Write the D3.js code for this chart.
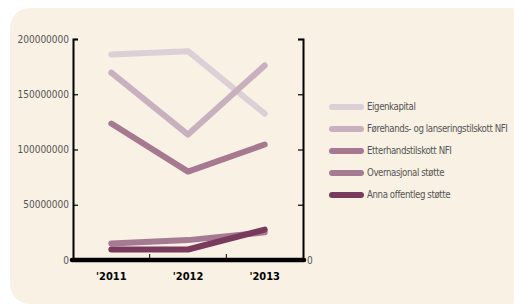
<!DOCTYPE html>
<html>
<head>
  <style>
  body {
    margin: 0;
    background: #fff;
  }
  svg text {
    font-family: "Liberation Sans Narrow", "DejaVu Sans Condensed", sans-serif;
  }
  .tick text {
    fill: #555;
    font-size: 10px;
  }
  .legend text {
    fill: #555;
    font-size: 9.6px;
    letter-spacing: -0.4px;
  }
  </style>
</head>
<body>
  <div id="chart"></div>
  <script src="https://d3js.org/d3.v7.min.js"></script>
  <script>
  var years = ["'2011", "'2012", "'2013"];
  var seriesNames = ["Eigenkapital", "Førehands- og lanseringstilskott NFI", "Etterhandstilskott NFI", "Overnasjonal støtte", "Anna offentleg støtte"];
  var eigenkapital = [186000000, 189000000, 132500000];
  var forehands = [169500000, 113500000, 176000000];
  var etterhand = [123500000, 80000000, 104500000];
  var overnasjonal = [15000000, 18000000, 25000000];
  var anna = [9500000, 9500000, 27500000];
  var colors = ["#dccfd6", "#c8b0be", "#a67990", "#a57b93", "#7a3a5d"];
  var yTicks = [0, 50000000, 100000000, 150000000, 200000000];

  var series = [eigenkapital, forehands, etterhand, overnasjonal, anna];

  var width = 514, height = 304;
  var margin = {left: 73, right: 211, top: 39, bottom: 44};

  var svg = d3.select("#chart").append("svg")
      .attr("width", width)
      .attr("height", height);

  svg.append("rect")
      .attr("x", 10)
      .attr("y", 8)
      .attr("width", 520)
      .attr("height", 296)
      .attr("rx", 20)
      .attr("fill", "#f8f1e4");

  var x = d3.scaleBand()
    .domain(years)
    .range([margin.left, width - margin.right]);

  var y = d3.scaleLinear()
    .domain([0, 200000000])
    .range([height - margin.bottom, margin.top]);

  // left axis
  var gl = svg.append("g")
      .attr("transform", "translate(" + margin.left + ",0)")
      .call(d3.axisLeft(y).tickValues(yTicks).tickSize(-5).tickPadding(4).tickFormat(d3.format("d")));
  gl.select(".domain").attr("stroke", "#000").attr("stroke-width", 2);
  gl.selectAll(".tick line").attr("stroke", "#000").attr("stroke-width", 1.2);

  // right axis
  var gr = svg.append("g")
      .attr("transform", "translate(" + (width - margin.right) + ",0)")
      .call(d3.axisRight(y).tickValues(yTicks).tickSize(-5).tickPadding(4).tickFormat(function(d){ return d === 0 ? "0" : ""; }));
  gr.select(".domain").attr("stroke", "#000").attr("stroke-width", 2);
  gr.selectAll(".tick line").attr("stroke", "#000").attr("stroke-width", 1.2);

  // bottom axis
  var gb = svg.append("g")
      .attr("transform", "translate(0," + y(0) + ")")
      .call(d3.axisBottom(x).tickSize(0).tickPadding(12));
  gb.select(".domain").remove();
  gb.selectAll(".tick text")
      .style("fill", "#000")
      .style("font-weight", "bold")
      .style("font-size", "11px")
      .attr("dy", "0.71em");

  // inner ticks between bands
  svg.append("g").selectAll("line")
      .data(years.slice(1))
    .enter().append("line")
      .attr("x1", function(d){ return x(d); })
      .attr("x2", function(d){ return x(d); })
      .attr("y1", y(0))
      .attr("y2", y(0) - 6)
      .attr("stroke", "#000")
      .attr("stroke-width", 1);

  var line = d3.line()
    .x(function(d, i){ return x(years[i]) + x.bandwidth() / 2; })
    .y(function(d){ return y(d); });

  svg.append("g").selectAll("path")
      .data(series)
    .enter().append("path")
      .attr("d", line)
      .attr("fill", "none")
      .attr("stroke", function(d, i){ return colors[i]; })
      .attr("stroke-width", 6)
      .attr("stroke-linecap", "round")
      .attr("stroke-linejoin", "round");

  svg.append("line")
      .attr("x1", margin.left - 1)
      .attr("x2", width - margin.right + 1)
      .attr("y1", y(0))
      .attr("y2", y(0))
      .attr("stroke", "#000")
      .attr("stroke-width", 4.5)
      .attr("stroke-linecap", "round");

  // legend
  var legend = svg.append("g")
      .attr("class", "legend")
      .attr("transform", "translate(332,107)");

  var item = legend.selectAll("g")
      .data(seriesNames)
    .enter().append("g")
      .attr("transform", function(d, i){ return "translate(0," + (i * 22) + ")"; });

  item.append("line")
      .attr("x1", 0)
      .attr("x2", 29)
      .attr("stroke", function(d, i){ return colors[i]; })
      .attr("stroke-width", 6)
      .attr("stroke-linecap", "round");

  item.append("text")
      .attr("x", 35)
      .attr("dy", "0.35em")
      .text(function(d){ return d; });
  </script>
</body>
</html>
